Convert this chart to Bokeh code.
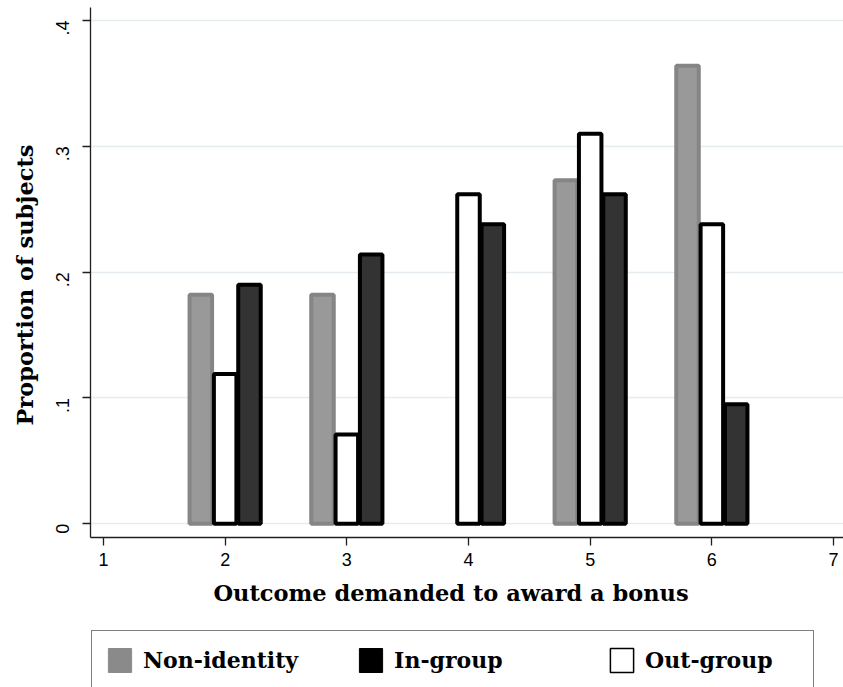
from math import pi
from bokeh.plotting import figure
from bokeh.layouts import column
from bokeh.models import (ColumnDataSource, FixedTicker, CustomJSTickFormatter, Range1d,
                          Title, Legend, LegendItem)
from bokeh.embed import file_html
from bokeh.resources import INLINE

# ---- data ----
categories = [2, 3, 4, 5, 6]
non_identity = [0.182, 0.182, 0.0, 0.273, 0.364]
out_group = [0.119, 0.071, 0.262, 0.310, 0.238]
in_group = [0.190, 0.214, 0.238, 0.262, 0.095]
x_ticks = [1, 2, 3, 4, 5, 6, 7]
y_ticks = [0, 0.1, 0.2, 0.3, 0.4]
series_labels = ["Non-identity", "In-group", "Out-group"]
x_title = "Outcome demanded to award a bonus"
y_title = "Proportion of subjects"

SERIF = "DejaVu Serif"
SANS = "Liberation Sans"

p = figure(width=843, height=630, output_backend="svg", toolbar_location=None,
           x_range=Range1d(0.8934, 7.0819), y_range=Range1d(-0.01089, 0.41033),
           min_border_left=88, min_border_right=0, min_border_top=7, min_border_bottom=93)
p.outline_line_color = None
p.background_fill_color = "white"
p.border_fill_color = "white"

# axes
for ax in (p.xaxis[0], p.yaxis[0]):
    ax.axis_line_color = "#1f1f1f"
    ax.axis_line_width = 1.3
    ax.major_tick_line_color = "#1f1f1f"
    ax.major_tick_line_width = 1.3
    ax.major_tick_in = 0
    ax.major_tick_out = 8
    ax.minor_tick_line_color = None
    ax.major_label_text_font = SANS
    ax.major_label_text_font_size = "18px"
    ax.major_label_text_color = "black"

p.xaxis.ticker = FixedTicker(ticks=x_ticks)
p.xaxis.major_label_standoff = 7
p.yaxis.ticker = FixedTicker(ticks=y_ticks)
p.yaxis.formatter = CustomJSTickFormatter(
    code="return Math.abs(tick) < 1e-9 ? '0' : tick.toFixed(1).replace(/^0/, '');")
p.yaxis.major_label_orientation = pi / 2
p.yaxis.major_label_standoff = 20

p.xgrid.visible = False
p.ygrid.ticker = FixedTicker(ticks=y_ticks)
p.ygrid.grid_line_color = "#e4ecef"
p.ygrid.grid_line_width = 1.5


def bars(values, offset, fill, line, lw):
    xs = [c + offset for c, v in zip(categories, values) if v > 0]
    tops = [v for v in values if v > 0]
    src = ColumnDataSource(dict(x=xs, top=tops))
    return p.vbar(x="x", top="top", bottom=0, width=0.185, source=src,
                  fill_color=fill, line_color=line, line_width=lw)


bars(non_identity, -0.2, "#999999", "#858585", 4)
bars(out_group, 0.0, "white", "black", 4)
bars(in_group, 0.2, "#333333", "black", 4)

p.add_layout(Title(text=x_title, align="left", offset=123, vertical_align="top", standoff=22,
                   text_font=SERIF, text_font_style="bold", text_font_size="22.5px",
                   text_color="black"), "below")
p.add_layout(Title(text=y_title, align="left", offset=112, standoff=18,
                   text_font=SERIF, text_font_style="bold", text_font_size="22.5px",
                   text_color="black"), "left")

# ---- legend strip (separate figure underneath) ----
lf = figure(width=843, height=57, output_backend="svg", toolbar_location=None,
            x_axis_type=None, y_axis_type=None, x_range=Range1d(0, 1), y_range=Range1d(0, 1),
            min_border_left=0, min_border_right=0, min_border_top=0, min_border_bottom=0)
lf.outline_line_color = None
lf.grid.visible = False
lf.background_fill_color = "white"
lf.border_fill_color = "white"

# hidden renderers that only provide the legend keys
k1 = lf.vbar(x=[categories[0]], top=[non_identity[0]], width=0.2, visible=False,
             fill_color="#8a8a8a", line_color="#8a8a8a", line_width=1)
k2 = lf.vbar(x=[categories[0]], top=[in_group[0]], width=0.2, visible=False,
             fill_color="black", line_color="black", line_width=1)
k3 = lf.vbar(x=[categories[0]], top=[out_group[0]], width=0.2, visible=False,
             fill_color="white", line_color="black", line_width=1.5)

legend = Legend(items=[LegendItem(label=series_labels[0], renderers=[k1]),
                       LegendItem(label=series_labels[1], renderers=[k2]),
                       LegendItem(label=series_labels[2], renderers=[k3])],
                orientation="horizontal", location=(1, -3), margin=0,
                padding=13, spacing=58, glyph_width=29, glyph_height=30,
                label_standoff=9, label_width=155, label_height=32,
                label_text_font=SERIF, label_text_font_style="bold",
                label_text_font_size="22px", label_text_color="black",
                inactive_fill_alpha=0,
                border_line_color="black", border_line_width=1.5,
                background_fill_color="white", background_fill_alpha=1)
lf.add_layout(legend, "center")

open("out.html", "w").write(file_html(column(p, lf, spacing=0), INLINE))
